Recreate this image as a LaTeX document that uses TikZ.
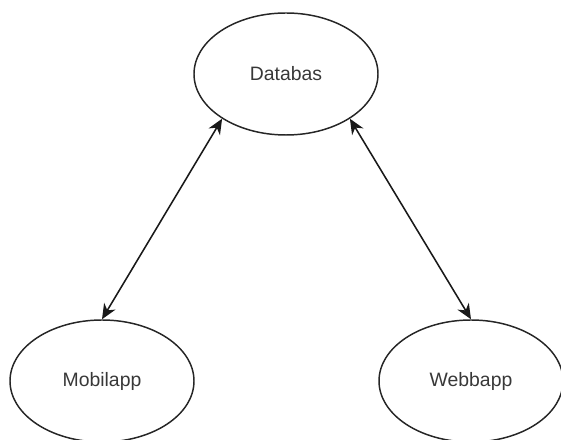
\documentclass[tikz,border=0pt]{standalone}
\usepackage{fontspec}
\setmainfont{Liberation Sans}
\usetikzlibrary{arrows.meta,shapes.geometric}

\begin{document}
\begin{tikzpicture}[
  font=\fontsize{13.8}{16}\selectfont,
  >={Stealth[length=3.8mm, width=3.3mm, inset=1.2mm]},
  entity/.style={ellipse, draw=black!85, line width=1.05pt, text=black!78,
    minimum width=4.6cm, minimum height=3.05cm, inner sep=0pt},
  link/.style={<->, line width=1.1pt, black!90}
]

% Fixed canvas matching the reference size.
\useasboundingbox (0,0) rectangle (14.025,11);

% The three parts of the system.
\node[entity] (db) at (7.15,9.15) {Databas};
\node[entity] (mobil) at (2.55,1.475) {Mobilapp};
\node[entity] (webb) at (11.775,1.475) {Webbapp};

% Two-way links to the database.
\draw[link] (db.215) -- (mobil.north);
\draw[link] (db.325) -- (webb.north);

\end{tikzpicture}
\end{document}
